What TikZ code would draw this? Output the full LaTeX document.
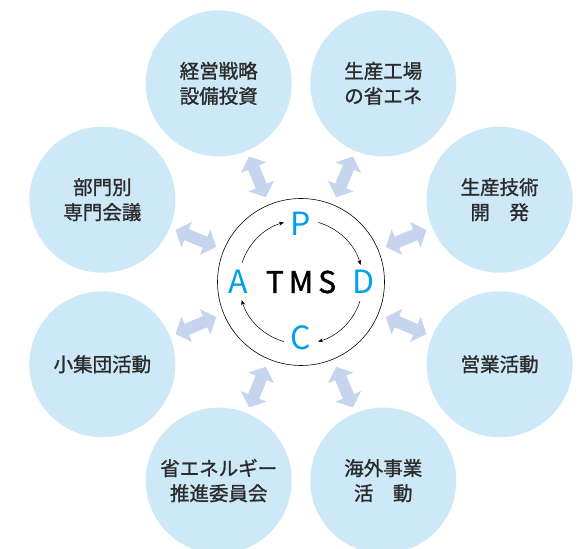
\documentclass[tikz,border=0pt]{standalone}
\usepackage{fontspec}
\usepackage{xcolor}
\usetikzlibrary{arrows.meta}
\setmainfont{Noto Sans CJK JP}
\newfontfamily\jpfont{Noto Sans CJK JP}[FakeBold=1.2]

\definecolor{topicblue}{HTML}{CDE8F7}
\definecolor{linkblue}{HTML}{C6D4EE}
\definecolor{pdcacyan}{HTML}{00A0E9}
\definecolor{textgray}{HTML}{2B2B2B}

\begin{document}
\begin{tikzpicture}[x=1pt, y=1pt,
  topic/.style={circle, fill=topicblue, minimum size=146pt, inner sep=0pt,
    align=center, text=textgray, font=\jpfont\fontsize{19.5}{25}\selectfont},
  link/.style={draw=linkblue, line width=12pt,
    {Triangle[width=27pt,length=12pt]}-{Triangle[width=27pt,length=12pt]},
    shorten <=8pt, shorten >=6pt},
  pdca/.style={text=pdcacyan, inner sep=0pt, font=\fontsize{32}{32}\selectfont},
  cycle/.style={draw=black, line width=0.5pt, -{Stealth[length=5pt,width=4pt]}}]
  % Fix the page size
  \useasboundingbox (0,0) rectangle (585,548);

  % Centre circle
  \node[circle, draw, line width=0.6pt, minimum size=167pt, inner sep=0pt,
    font=\jpfont\fontsize{30}{30}\selectfont] (tms) at (301,266)
    {T\hspace{5pt}M\hspace{5pt}S};

  % PDCA letters
  \node[pdca] (p) at ([shift={(90:58)}]tms.center) {P};
  \node[pdca] (d) at ([shift={(0:63)}]tms.center) {D};
  \node[pdca] (c) at ([shift={(-90:56)}]tms.center) {C};
  \node[pdca] (a) at ([shift={(180:63)}]tms.center) {A};

  % Cycle arrows
  \draw[cycle] ([shift={(74:62)}]tms.center) arc[start angle=74, end angle=16, radius=62];
  \draw[cycle] ([shift={(-18:62)}]tms.center) arc[start angle=-18, end angle=-74, radius=62];
  \draw[cycle] ([shift={(-106:62)}]tms.center) arc[start angle=-106, end angle=-163, radius=62];
  \draw[cycle] ([shift={(162:62)}]tms.center) arc[start angle=162, end angle=106, radius=62];

  % Outer circles
  \node[topic] (keiei) at ([shift={(112.5:215)}]tms.center) {経営戦略\\設備投資};
  \node[topic] (kojo) at ([shift={(67.5:215)}]tms.center) {生産工場\\の省エネ};
  \node[topic] (gijutsu) at ([shift={(22.5:215)}]tms.center) {生産技術\\開　発};
  \node[topic] (eigyo) at ([shift={(-22.5:215)}]tms.center) {営業活動};
  \node[topic] (kaigai) at ([shift={(-67.5:215)}]tms.center) {海外事業\\活　動};
  \node[topic] (iinkai) at ([shift={(-112.5:215)}]tms.center) {省エネルギー\\推進委員会};
  \node[topic] (shudan) at ([shift={(-157.5:215)}]tms.center) {小集団活動};
  \node[topic] (bumon) at ([shift={(157.5:215)}]tms.center) {部門別\\専門会議};

  % Double arrows
  \draw[link] (tms) -- (keiei);
  \draw[link] (tms) -- (kojo);
  \draw[link] (tms) -- (gijutsu);
  \draw[link] (tms) -- (eigyo);
  \draw[link] (tms) -- (kaigai);
  \draw[link] (tms) -- (iinkai);
  \draw[link] (tms) -- (shudan);
  \draw[link] (tms) -- (bumon);
\end{tikzpicture}
\end{document}
